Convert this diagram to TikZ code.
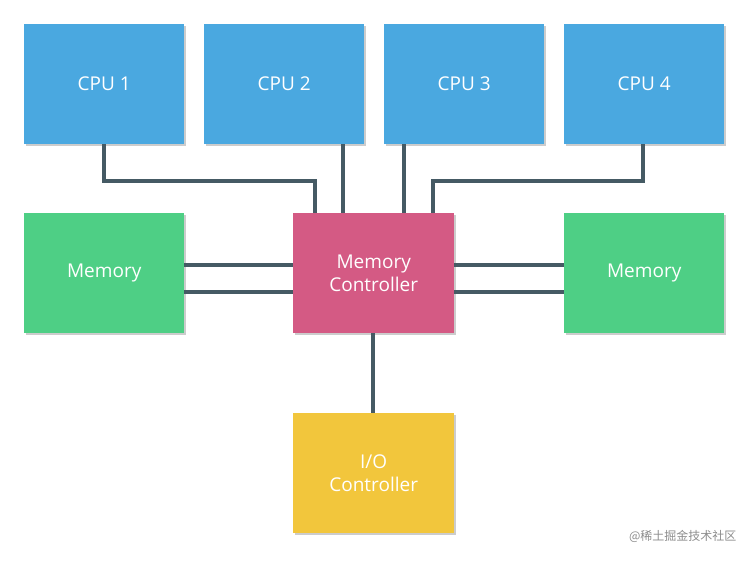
\documentclass[tikz,border=0pt]{standalone}
\usepackage{fontspec}
\setmainfont{Open Sans}
\newfontfamily\cjk{Noto Sans CJK SC}
\begin{document}
\begin{tikzpicture}[x=1pt,y=-1pt,
  box/.style={minimum width=160pt,minimum height=120pt,inner sep=0pt,text=white,font=\fontsize{19}{23}\selectfont,align=center,anchor=north west,draw=none},
  wire/.style={draw=black!65!cyan!25!gray,line width=3.5pt}]
\useasboundingbox (0,0) rectangle (750,560);
\definecolor{cpu}{HTML}{4AA8E0}\definecolor{mem}{HTML}{4ECF85}
\definecolor{mc}{HTML}{D45A84}\definecolor{io}{HTML}{F2C63C}
\definecolor{wc}{HTML}{455A64}
\tikzset{wire/.style={draw=wc,line width=3.5pt}}
\foreach \n/\x in {1/24,2/204,3/384,4/564}{
  \fill[black!20] (\x+2,26) rectangle ++(160,120);
  \node[box,fill=cpu] (cpu\n) at (\x,24) {CPU \n};}
\fill[black!20] (26,215) rectangle ++(160,120);
\fill[black!20] (566,215) rectangle ++(160,120);
\fill[black!20] (295,215) rectangle ++(161,120);
\fill[black!20] (295,415) rectangle ++(161,120);
\coordinate (a1) at (104,181);\coordinate (a2) at (315,181);
\coordinate (b1) at (643,181);\coordinate (b2) at (433,181);
\draw[wire] (104,144) -- (a1) -- (a2) -- (315,213);
\draw[wire] (343,144) -- (343,213);
\draw[wire] (404,144) -- (404,213);
\draw[wire] (643,144) -- (b1) -- (b2) -- (433,213);
\draw[wire] (184,265) -- (293,265) (184,292) -- (293,292);
\draw[wire] (454,265) -- (564,265) (454,292) -- (564,292);
\draw[wire] (373,333) -- (373,413);
\node[box,fill=mem] (memL) at (24,213) {Memory};
\node[box,fill=mem] (memR) at (564,213) {Memory};
\node[box,fill=mc,minimum width=161pt] (mc) at (293,213) {Memory\\Controller};
\node[box,fill=io,minimum width=161pt] (io) at (293,413) {I/O\\Controller};
\node[font=\cjk\fontsize{12}{14}\selectfont,text=black!45,anchor=east] (wm) at (740,536) {@稀土掘金技术社区};
\end{tikzpicture}
\end{document}
